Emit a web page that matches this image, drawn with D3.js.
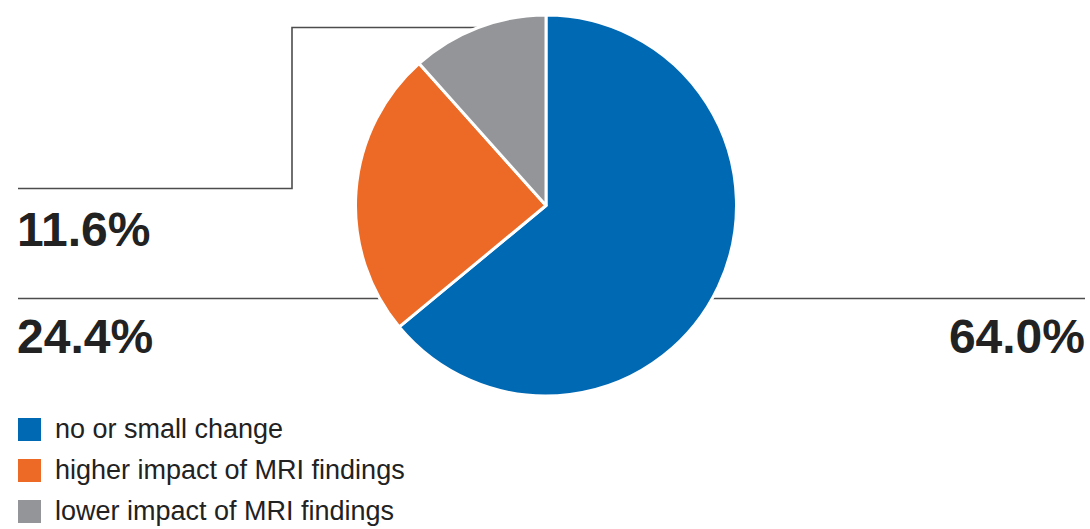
<!DOCTYPE html>
<html>
<head>
<meta charset="utf-8">
<script src="https://cdn.jsdelivr.net/npm/d3@7"></script>
<style>
  html, body { margin: 0; padding: 0; background: #fff; }
  svg { display: block; font-family: "Liberation Sans", Arial, Helvetica, sans-serif; }
</style>
</head>
<body>
<svg id="chart" width="1090" height="529"></svg>
<script>
// Share of cases by how MRI findings changed the assessment
const categories = ["no or small change", "higher impact of MRI findings", "lower impact of MRI findings"];
const shares = [64.0, 24.4, 11.6];
const labels = ["64.0%", "24.4%", "11.6%"];
const colors = ["#0069b4", "#ec6a25", "#939598"];

const svg = d3.select("#chart");
const cx = 546, cy = 205.5, R = 190.5;
const left = 18, right = 1085;
const lineColor = "#4d4d4d";

const data = categories.map((c, i) => ({ name: c, value: shares[i], label: labels[i], color: colors[i] }));

// pie layout: starts at 12 o'clock and runs clockwise
const pie = d3.pie().value(d => d.value).sort(null);
const arcs = pie(data);
const arc = d3.arc().innerRadius(0).outerRadius(R);

// x where a horizontal line at height y meets the circle's edge
const edgeX = (y, side) => cx + side * Math.sqrt(R * R - (y - cy) * (y - cy));

// leader lines
const leaders = svg.append("g")
  .attr("fill", "none")
  .attr("stroke", lineColor)
  .attr("stroke-width", 1.6);

const lowY = 298.5;
// blue slice -> right side
leaders.append("line")
  .attr("x1", edgeX(lowY, 1) - 4).attr("y1", lowY)
  .attr("x2", right).attr("y2", lowY);
// orange slice -> left side
leaders.append("line")
  .attr("x1", left).attr("y1", lowY)
  .attr("x2", edgeX(lowY, -1) + 4).attr("y2", lowY);
// gray slice -> elbow to the left
const topY = 27.5, elbowX = 292, midY = 188.5;
leaders.append("path")
  .attr("d", d3.line()([[edgeX(topY, -1) + 6, topY], [elbowX, topY], [elbowX, midY], [left, midY]]));

// slices
svg.append("g")
  .attr("transform", `translate(${cx},${cy})`)
  .selectAll("path")
  .data(arcs)
  .join("path")
  .attr("d", arc)
  .attr("fill", d => d.data.color)
  .attr("stroke", "#fff")
  .attr("stroke-width", 3)
  .attr("stroke-linejoin", "round");

// percentage labels
const labelPos = [
  { x: right, y: 353, anchor: "end" },
  { x: left - 1, y: 353, anchor: "start" },
  { x: left - 1, y: 246, anchor: "start" }
];
svg.append("g")
  .selectAll("text")
  .data(data)
  .join("text")
  .attr("x", (d, i) => labelPos[i].x)
  .attr("y", (d, i) => labelPos[i].y)
  .attr("text-anchor", (d, i) => labelPos[i].anchor)
  .attr("font-size", 48)
  .attr("font-weight", "bold")
  .attr("fill", "#222")
  .text(d => d.label);

// legend
const legendY = d3.scalePoint().domain(categories).range([418, 500]);
const legend = svg.append("g")
  .selectAll("g")
  .data(data)
  .join("g")
  .attr("transform", d => `translate(${left},${legendY(d.name)})`);
legend.append("rect")
  .attr("width", 23).attr("height", 23)
  .attr("fill", d => d.color);
legend.append("text")
  .attr("x", 37).attr("y", 20)
  .attr("font-size", 27)
  .attr("fill", "#222")
  .text(d => d.name);
</script>
</body>
</html>
